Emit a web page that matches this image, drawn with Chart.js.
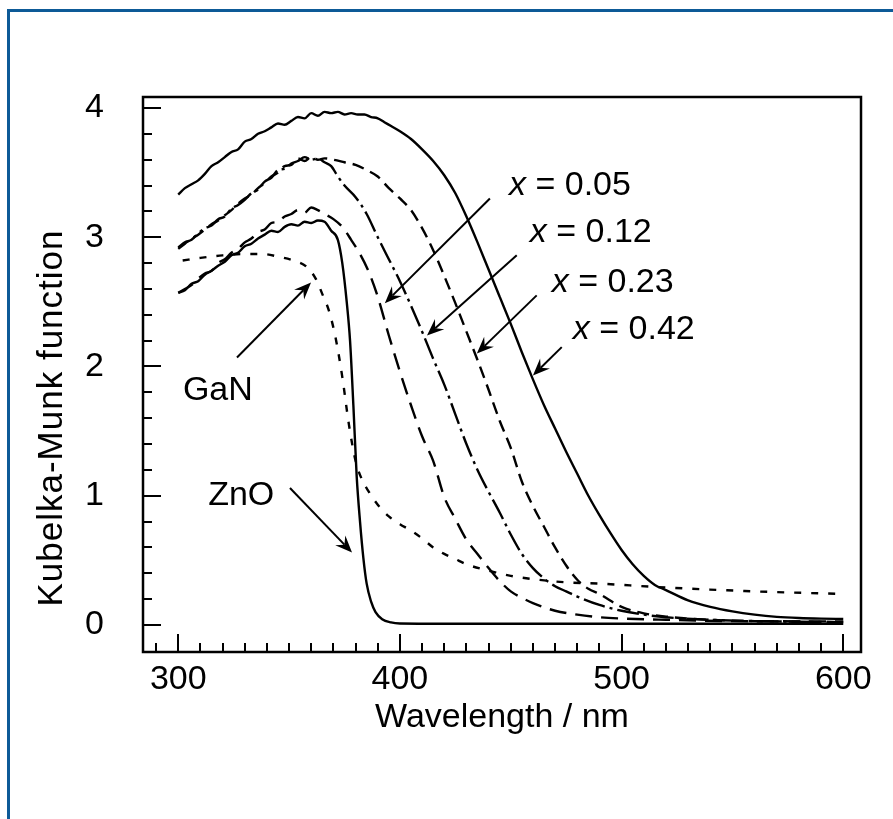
<!DOCTYPE html>
<html lang="en">
<head>
<meta charset="UTF-8">
<title>Kubelka-Munk function vs wavelength</title>
<style>
  body { margin: 0; background: #fff; overflow: hidden; }
  #wrap { position: relative; width: 893px; height: 819px; overflow: hidden; }
  #frame {
    position: absolute; left: 7px; top: 9px; width: 900px; height: 820px;
    border-left: 3px solid #0d5a97; border-top: 3px solid #0d5a97;
    pointer-events: none;
  }
</style>
</head>
<body>
<div id="wrap">
  <canvas id="km"></canvas>
  <div id="frame"></div>
</div>
<script src="https://cdn.jsdelivr.net/npm/chart.js"></script>
<script>
// ---- data (wavelength in nm, Kubelka-Munk value) ----
const wlX042 = [300,303,306,309,312,315,318,321,324,327,330,333,336,339,342,345,348,351,354,357,360,363,366,369,372,375,378,381,384,387,390,393,396,
                400,405,410,415,420,425,430,435,440,445,450,455,460,465,470,475,480,485,490,495,500,505,510,515,520,530,540,550,560,570,580,590,600];
const kmX042 = [3.33,3.38,3.41,3.44,3.49,3.55,3.58,3.62,3.66,3.68,3.74,3.76,3.80,3.82,3.85,3.88,3.87,3.90,3.93,3.92,3.96,3.94,3.97,3.96,3.97,3.95,3.96,3.95,3.95,3.93,3.92,3.89,3.86,
                3.82,3.76,3.68,3.59,3.48,3.34,3.16,2.96,2.75,2.54,2.33,2.11,1.90,1.70,1.52,1.34,1.17,1.00,0.85,0.71,0.58,0.47,0.38,0.31,0.27,0.19,0.14,0.105,0.08,0.063,0.054,0.049,0.046];

const wlX023 = [300,303,306,309,312,315,318,321,324,327,330,333,336,339,342,345,348,351,354,357,360,363,366,
                370,375,380,385,390,395,400,405,410,415,420,425,430,435,440,445,450,455,460,465,470,475,480,485,490,500,510,520,540,560,580,600];
const kmX023 = [2.91,2.95,2.99,3.02,3.06,3.10,3.13,3.17,3.21,3.26,3.30,3.33,3.38,3.42,3.47,3.50,3.55,3.56,3.61,3.59,3.62,3.60,3.61,
                3.60,3.58,3.56,3.52,3.47,3.38,3.30,3.21,3.07,2.90,2.70,2.49,2.27,2.05,1.82,1.58,1.37,1.11,0.92,0.76,0.60,0.46,0.35,0.28,0.24,0.14,0.09,0.065,0.04,0.03,0.025,0.022];

const wlX012 = [300,303,306,309,312,315,318,321,324,327,330,333,336,339,342,345,348,351,354,357,360,363,366,369,372,375,
                380,385,390,395,400,405,410,415,420,425,430,435,440,445,450,455,460,465,470,475,480,490,500,510,520,540,560,580,600];
const kmX012 = [2.92,2.96,2.98,3.03,3.07,3.09,3.14,3.16,3.22,3.25,3.29,3.34,3.37,3.43,3.46,3.52,3.53,3.57,3.59,3.62,3.60,3.61,3.58,3.55,3.47,3.40,
                3.31,3.18,3.00,2.83,2.66,2.47,2.27,2.06,1.86,1.63,1.40,1.20,1.03,0.87,0.70,0.55,0.44,0.36,0.30,0.26,0.22,0.155,0.11,0.08,0.06,0.04,0.03,0.025,0.022];

const wlX005 = [300,303,306,309,312,315,318,321,324,327,330,333,336,339,342,345,348,351,354,357,360,363,366,
                370,374,378,382,386,390,395,400,405,410,415,420,425,430,435,440,445,450,455,460,470,480,490,500,520,550,600];
const kmX005 = [2.57,2.60,2.63,2.68,2.72,2.74,2.80,2.83,2.88,2.91,2.96,2.99,3.04,3.06,3.11,3.12,3.16,3.18,3.21,3.19,3.23,3.21,3.18,
                3.14,3.08,2.98,2.87,2.73,2.54,2.24,1.96,1.70,1.46,1.27,0.99,0.82,0.66,0.55,0.44,0.34,0.26,0.21,0.17,0.11,0.08,0.06,0.05,0.04,0.03,0.028];

const wlZnO = [300,303,306,309,312,315,318,321,324,327,330,333,336,339,342,345,348,351,354,357,360,363,366,369,372,
               374,376,377.5,379,380.5,382,383.5,385,387,389,392,396,400,420,500,600];
const kmZnO = [2.57,2.59,2.64,2.66,2.71,2.74,2.78,2.81,2.86,2.88,2.93,2.95,2.99,3.02,3.05,3.04,3.08,3.10,3.09,3.12,3.11,3.13,3.12,3.05,2.98,
               2.80,2.50,2.20,1.70,1.15,0.80,0.52,0.32,0.18,0.10,0.045,0.02,0.012,0.01,0.01,0.01];

const wlGaN = [302,310,320,330,338,345,352,358,362,365,368,371,374,377,380,383,386,390,395,400,405,410,415,420,425,430,440,450,460,475,490,520,560,600];
const kmGaN = [2.82,2.84,2.86,2.87,2.87,2.85,2.82,2.77,2.68,2.56,2.43,2.22,1.92,1.55,1.27,1.12,1.03,0.93,0.84,0.78,0.73,0.67,0.60,0.55,0.51,0.47,0.42,0.38,0.355,0.33,0.32,0.29,0.26,0.24];

const xTickLabels = [300, 400, 500, 600];
const yTickLabels = [0, 1, 2, 3, 4];

// ---- annotations (data coordinates) ----
const curveNotes = [
  { label: '0.05', text: [449.2, 3.33], from: [440.6, 3.30], to: [393.2, 2.49] },
  { label: '0.12', text: [458.6, 2.96], from: [452.7, 2.86], to: [412.2, 2.24] },
  { label: '0.23', text: [468.5, 2.58], from: [461.7, 2.55], to: [434.7, 2.10] },
  { label: '0.42', text: [478.0, 2.21], from: [473.0, 2.15], to: [460.0, 1.93] }
];
const sampleNotes = [
  { label: 'GaN', text: [302.1, 1.74], from: [326.5, 2.07], to: [359.9, 2.65] },
  { label: 'ZnO', text: [313.5, 0.93], from: [350.4, 1.06], to: [378.4, 0.56] }
];

const FONT = "'Liberation Sans', Arial, sans-serif";

function pairs(xs, ys) {
  return xs.map((x, i) => ({ x: x, y: ys[i] }));
}

function series(xs, ys, dash) {
  return {
    data: pairs(xs, ys),
    borderColor: '#000',
    borderWidth: 2.4,
    borderDash: dash,
    pointRadius: 0,
    cubicInterpolationMode: 'monotone',
    fill: false
  };
}

function arrow(ctx, x1, y1, x2, y2) {
  const ang = Math.atan2(y2 - y1, x2 - x1);
  const len = 17, half = 7, notch = 11;
  ctx.beginPath();
  ctx.moveTo(x1, y1);
  ctx.lineTo(x2 - Math.cos(ang) * notch, y2 - Math.sin(ang) * notch);
  ctx.stroke();
  const bx = x2 - Math.cos(ang) * len, by = y2 - Math.sin(ang) * len;
  const nx = -Math.sin(ang), ny = Math.cos(ang);
  ctx.beginPath();
  ctx.moveTo(x2, y2);
  ctx.lineTo(bx + nx * half, by + ny * half);
  ctx.lineTo(x2 - Math.cos(ang) * notch, y2 - Math.sin(ang) * notch);
  ctx.lineTo(bx - nx * half, by - ny * half);
  ctx.closePath();
  ctx.fill();
}

const decorations = {
  id: 'decorations',
  afterDraw(chart) {
    const { ctx, chartArea: a, scales: { x, y } } = chart;
    ctx.save();
    ctx.strokeStyle = '#000';
    ctx.fillStyle = '#000';

    // ticks pointing into the plot
    ctx.lineWidth = 2;
    for (let v = 290; v <= 600; v += 10) {
      const px = Math.round(x.getPixelForValue(v));
      const len = v % 100 === 0 ? 18 : 9;
      ctx.beginPath(); ctx.moveTo(px, a.bottom); ctx.lineTo(px, a.bottom - len); ctx.stroke();
    }
    for (let k = 0; k <= 20; k++) {
      const py = Math.round(y.getPixelForValue(k / 5));
      const len = k % 5 === 0 ? 18 : 9;
      ctx.beginPath(); ctx.moveTo(a.left, py); ctx.lineTo(a.left + len, py); ctx.stroke();
    }

    // frame
    ctx.lineWidth = 2.5;
    ctx.strokeRect(a.left, a.top, a.right - a.left, a.bottom - a.top);

    // y title
    ctx.save();
    ctx.translate(52, 418);
    ctx.rotate(-Math.PI / 2);
    ctx.font = '35px ' + FONT;
    ctx.letterSpacing = '1px';
    ctx.textAlign = 'center';
    ctx.textBaseline = 'middle';
    ctx.fillText('Kubelka-Munk function', 0, 0);
    ctx.restore();

    // arrows + labels
    ctx.lineWidth = 2;
    ctx.textBaseline = 'alphabetic';
    ctx.textAlign = 'left';
    curveNotes.forEach(n => {
      arrow(ctx, x.getPixelForValue(n.from[0]), y.getPixelForValue(n.from[1]),
                 x.getPixelForValue(n.to[0]), y.getPixelForValue(n.to[1]));
      const tx = x.getPixelForValue(n.text[0]), ty = y.getPixelForValue(n.text[1]);
      ctx.font = 'italic 34px ' + FONT;
      ctx.fillText('x', tx, ty);
      const w = ctx.measureText('x').width;
      ctx.font = '34px ' + FONT;
      ctx.fillText(' = ' + n.label, tx + w, ty);
    });
    sampleNotes.forEach(n => {
      arrow(ctx, x.getPixelForValue(n.from[0]), y.getPixelForValue(n.from[1]),
                 x.getPixelForValue(n.to[0]), y.getPixelForValue(n.to[1]));
      ctx.font = '34px ' + FONT;
      ctx.fillText(n.label, x.getPixelForValue(n.text[0]), y.getPixelForValue(n.text[1]));
    });
    ctx.restore();
  }
};

const ctx = document.getElementById('km').getContext('2d');
new Chart(ctx, {
  type: 'line',
  data: {
    datasets: [
      series(wlX042, kmX042, []),
      series(wlX023, kmX023, [12, 7]),
      series(wlX012, kmX012, [22, 5, 3, 5]),
      series(wlX005, kmX005, [17, 9]),
      series(wlZnO, kmZnO, []),
      series(wlGaN, kmGaN, [7, 10])
    ]
  },
  options: {
    responsive: true,
    maintainAspectRatio: false,
    animation: false,
    layout: { padding: { left: 0, top: 97, right: 32, bottom: 79 } },
    plugins: { legend: { display: false }, tooltip: { enabled: false } },
    scales: {
      x: {
        type: 'linear',
        min: 284.1,
        max: 608,
        afterBuildTicks: s => { s.ticks = xTickLabels.map(v => ({ value: v })); },
        afterFit: s => { s.height = 88; },
        grid: { display: false, drawTicks: false },
        border: { display: false },
        ticks: { color: '#000', padding: 7, maxRotation: 0, font: { family: FONT, size: 34 } },
        title: {
          display: true,
          text: 'Wavelength / nm',
          color: '#000',
          padding: { top: 0, bottom: 2 },
          font: { family: FONT, size: 34 }
        }
      },
      y: {
        type: 'linear',
        min: -0.209,
        max: 4.085,
        afterBuildTicks: s => { s.ticks = yTickLabels.map(v => ({ value: v })); },
        afterFit: s => { s.width = 143; },
        grid: { display: false, drawTicks: false },
        border: { display: false },
        ticks: { color: '#000', padding: 39, font: { family: FONT, size: 34 } }
      }
    }
  },
  plugins: [decorations]
});
</script>
</body>
</html>
